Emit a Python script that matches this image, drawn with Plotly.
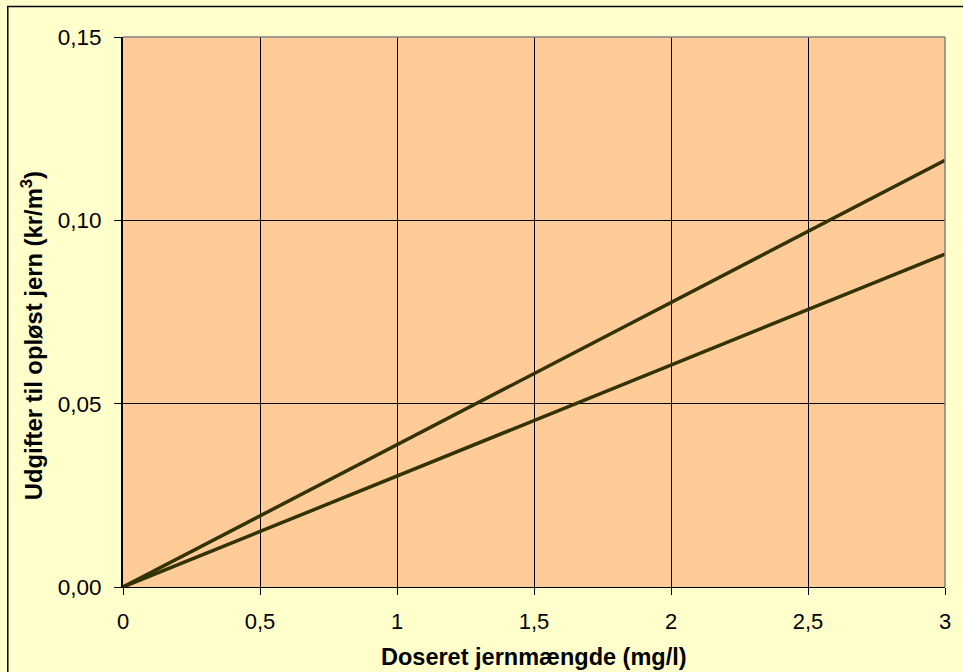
import plotly.graph_objects as go

dose = [0, 0.5, 1, 1.5, 2, 2.5, 3]
cost_high = [0, 0.0194, 0.0388, 0.0582, 0.0776, 0.0970, 0.1164]
cost_low = [0, 0.0151, 0.0303, 0.0454, 0.0605, 0.0757, 0.0908]
y_ticks = [0, 0.05, 0.10, 0.15]
x_title = "<b>Doseret jernmængde (mg/l)</b>"
y_title = "<b>Udgifter til opløst jern (kr/m<sup>3</sup>)</b>"

W, H = 963, 672
L, R, T, B = 123, 16, 37, 85
pw = W - L - R
ph = H - T - B

fig = go.Figure()
for ys in (cost_high, cost_low):
    fig.add_trace(go.Scatter(x=dose, y=ys, mode="lines",
                             line=dict(color="#333300", width=3.5),
                             showlegend=False, hoverinfo="skip"))

font = "Liberation Sans, Arial, sans-serif"
fig.update_layout(
    width=W, height=H,
    margin=dict(l=L, r=R, t=T, b=B),
    paper_bgcolor="#FFFFCC",
    plot_bgcolor="#FFCC99",
    separators=",.",
    font=dict(family=font, size=22, color="#000000"),
    xaxis=dict(range=[0, 3], tickvals=dose, showgrid=True, gridcolor="#000000", gridwidth=1,
               showline=True, linecolor="#000000", linewidth=1, mirror=False,
               ticks="outside", ticklen=7, tickcolor="#000000", zeroline=False,
               tickfont=dict(size=22), ticklabelstandoff=8),
    yaxis=dict(range=[0, 0.15], tickvals=y_ticks, tickformat=".2f",
               showgrid=True, gridcolor="#000000", gridwidth=1,
               showline=True, linecolor="#000000", linewidth=2,
               ticks="outside", ticklen=7, tickcolor="#000000", zeroline=False,
               tickfont=dict(size=22.5), ticklabelstandoff=8),
    annotations=[
        dict(text=x_title, xref="paper", yref="paper", x=0.5, y=-(657 - T - ph) / ph,
             xanchor="center", yanchor="middle", showarrow=False,
             font=dict(size=23.5, family=font, color="#000000")),
        dict(text=y_title, xref="paper", yref="paper", x=(32 - L) / pw, y=1 - (336 - T) / ph,
             xanchor="center", yanchor="middle", showarrow=False, textangle=-90,
             font=dict(size=23.8, family=font, color="#000000")),
    ],
    shapes=[
        dict(type="line", xref="paper", yref="paper", x0=0, x1=1, y0=1, y1=1,
             line=dict(color="#808080", width=1.5)),
        dict(type="line", xref="paper", yref="paper", x0=1, x1=1, y0=0, y1=1,
             line=dict(color="#808080", width=1.5)),
        dict(type="rect", xref="paper", yref="paper",
             x0=(7.5 - L) / pw, x1=(W + 20 - L) / pw,
             y0=-(H + 20 - T - ph) / ph, y1=1 + (T - 6.5) / ph,
             line=dict(color="#000000", width=1.5), layer="below"),
    ],
)
fig.write_html("out.html", config={"displayModeBar": False, "staticPlot": True},
               post_script="document.body.style.margin='0';document.body.style.overflow='hidden';")
